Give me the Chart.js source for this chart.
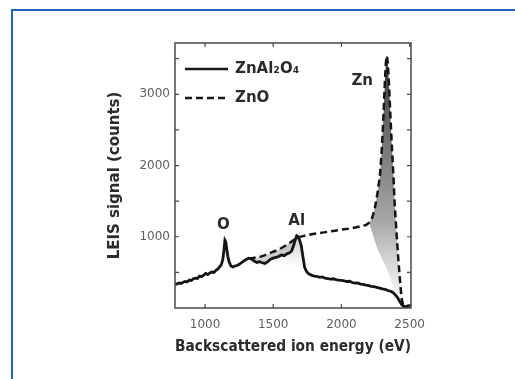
<!DOCTYPE html>
<html>
<head>
<meta charset="utf-8">
<script src="https://cdn.jsdelivr.net/npm/chart.js@4.4.0/dist/chart.umd.min.js"></script>
<style>
  html, body { margin: 0; padding: 0; background: #fff; }
  canvas { display: block; }
</style>
</head>
<body>
<canvas id="leisChart" width="515" height="379"></canvas>
<script>
// ZnAl2O4 スペクトル (実線)
const spinelEnergy = [780, 795, 810, 825, 840, 855, 870, 885, 900, 915, 930, 945, 960, 975, 990, 1005, 1020, 1035, 1050, 1065, 1080, 1095, 1108, 1120, 1130, 1138, 1146, 1152, 1160, 1168, 1178, 1190, 1205, 1220, 1240, 1260, 1280, 1300, 1320, 1340, 1360, 1380, 1400, 1420, 1440, 1460, 1480, 1500, 1520, 1540, 1560, 1580, 1600, 1620, 1635, 1650, 1662, 1672, 1682, 1692, 1705, 1718, 1730, 1745, 1760, 1780, 1800, 1820, 1840, 1860, 1880, 1900, 1920, 1940, 1960, 1980, 2000, 2020, 2040, 2060, 2080, 2100, 2120, 2140, 2160, 2180, 2200, 2220, 2240, 2260, 2280, 2300, 2320, 2340, 2360, 2380, 2395, 2410, 2425, 2440, 2455, 2470, 2490, 2510];
const spinelCounts = [330, 338, 352, 345, 362, 372, 368, 392, 385, 410, 420, 415, 448, 440, 462, 485, 470, 492, 505, 500, 530, 548, 580, 610, 680, 800, 950, 930, 820, 720, 640, 590, 575, 590, 600, 625, 655, 680, 700, 690, 660, 640, 650, 635, 625, 650, 685, 700, 712, 722, 745, 735, 760, 775, 800, 880, 960, 1015, 1000, 960, 880, 720, 570, 510, 480, 462, 448, 445, 430, 436, 418, 412, 405, 410, 398, 392, 388, 380, 372, 375, 358, 350, 352, 336, 332, 322, 315, 305, 300, 288, 280, 268, 262, 245, 235, 215, 185, 150, 100, 50, 25, 20, 25, 30, 35];

// ZnO スペクトル (破線)
const zincOxideEnergy = [1320, 1350, 1380, 1410, 1440, 1470, 1500, 1530, 1560, 1590, 1620, 1650, 1680, 1710, 1740, 1780, 1820, 1860, 1900, 1940, 1980, 2020, 2060, 2100, 2140, 2180, 2205, 2225, 2245, 2265, 2282, 2295, 2307, 2318, 2326, 2332, 2340, 2352, 2367, 2380, 2391, 2403, 2415, 2428, 2440, 2452, 2470, 2490, 2510];
const zincOxideCounts = [700, 702, 710, 722, 742, 765, 790, 812, 842, 876, 912, 955, 992, 1005, 1020, 1034, 1046, 1058, 1070, 1082, 1094, 1105, 1116, 1130, 1146, 1165, 1200, 1265, 1400, 1620, 1850, 2200, 2650, 3150, 3450, 3540, 3450, 3000, 2370, 1900, 1440, 1080, 740, 420, 150, 40, 25, 30, 35];

// 灰色の塗りの下端
const shadeEnergy = [1320, 1340, 1360, 1380, 1400, 1420, 1440, 1460, 1480, 1500, 1520, 1540, 1560, 1580, 1600, 1620, 1635, 1650, 1662, 1672, 1680, 1710, 1740, 1780, 1820, 1860, 1900, 1940, 1980, 2020, 2060, 2100, 2140, 2180, 2205, 2235, 2260, 2290, 2320, 2350, 2380, 2405, 2430, 2452, 2470, 2490, 2510];
const shadeCounts = [700, 690, 660, 640, 650, 635, 625, 650, 685, 700, 712, 722, 745, 735, 760, 775, 800, 880, 960, 1000, 992, 1005, 1020, 1034, 1046, 1058, 1070, 1082, 1094, 1105, 1116, 1130, 1146, 1165, 1185, 1000, 850, 720, 600, 470, 320, 190, 90, 40, 25, 30, 35];

// ピーク名とその位置
const peakNames = ['O', 'Al', 'Zn'];
const peakEnergy = [1135, 1672, 2152];
const peakCounts = [1160, 1220, 3180];

// 目盛 (ラベルなしの目盛も含む)
const xTickValues = [1000, 1500, 2000, 2500];
const yTickValues = [500, 1000, 1500, 2000, 2500, 3000, 3500];
const xTickLabels = [1000, 1500, 2000, 2500];
const yTickLabels = [1000, 2000, 3000];

const seriesNames = ['ZnAl\u2082O\u2084', 'ZnO'];

const toPoints = (xs, ys) => xs.map((x, i) => ({ x: x, y: ys[i] }));

const LABEL_FONT = 'bold 15px "DejaVu Sans"';
const TEXT_COLOR = '#2b2b2b';

// 縦方向のグラデーション
function verticalGradient(chart, stops) {
    const { ctx, chartArea, scales } = chart;
    if (!chartArea || !scales.y) return 'rgba(0,0,0,0)';
    const topValue = stops[0][0];
    const g = ctx.createLinearGradient(0, scales.y.getPixelForValue(topValue), 0, scales.y.getPixelForValue(0));
    stops.forEach(([v, col]) => g.addColorStop(1 - v / topValue, col));
    return g;
}

const framePlugin = {
    id: 'frame',
    beforeDraw(chart) {
        const c = chart.ctx;
        c.save();
        c.fillStyle = '#fff';
        c.fillRect(0, 0, chart.width, chart.height);
        // 青い枠
        c.strokeStyle = '#1f63b6';
        c.lineWidth = 2;
        c.beginPath();
        c.moveTo(12, chart.height);
        c.lineTo(12, 10);
        c.lineTo(chart.width, 10);
        c.stroke();
        c.restore();
    },
    afterDatasetsDraw(chart) {
        const { ctx: c, chartArea: a, scales } = chart;
        const x = scales.x, y = scales.y;
        c.save();
        // 枠と内向きの目盛
        c.strokeStyle = '#4a4a4a';
        c.lineWidth = 1.5;
        c.strokeRect(a.left, a.top, a.right - a.left, a.bottom - a.top);
        c.lineWidth = 1.2;
        c.beginPath();
        x.ticks.forEach(t => {
            const px = x.getPixelForValue(t.value);
            c.moveTo(px, a.bottom); c.lineTo(px, a.bottom - 4);
            c.moveTo(px, a.top); c.lineTo(px, a.top + 4);
        });
        y.ticks.forEach(t => {
            const py = y.getPixelForValue(t.value);
            c.moveTo(a.left, py); c.lineTo(a.left + 4, py);
            c.moveTo(a.right, py); c.lineTo(a.right - 4, py);
        });
        c.stroke();

        // 凡例
        c.strokeStyle = '#1a1a1a';
        c.lineWidth = 2.5;
        const rows = [a.top + 26, a.top + 55];
        rows.forEach((ry, i) => {
            c.setLineDash(i === 0 ? [] : [7, 4]);
            c.beginPath();
            c.moveTo(a.left + 10, ry);
            c.lineTo(a.left + 53, ry);
            c.stroke();
        });
        c.setLineDash([]);
        c.font = LABEL_FONT;
        c.fillStyle = TEXT_COLOR;
        c.textBaseline = 'middle';
        c.textAlign = 'left';
        rows.forEach((ry, i) => c.fillText(seriesNames[i], a.left + 60, ry));

        // ピーク名
        c.textAlign = 'center';
        peakNames.forEach((name, i) => {
            c.fillText(name, x.getPixelForValue(peakEnergy[i]), y.getPixelForValue(peakCounts[i]));
        });
        c.restore();
    }
};

new Chart(document.getElementById('leisChart'), {
    type: 'line',
    data: {
        datasets: [
            {
                label: seriesNames[0],
                data: toPoints(spinelEnergy, spinelCounts),
                borderColor: '#151515',
                borderWidth: 2.8,
                pointRadius: 0,
                tension: 0,
                fill: 'origin',
                backgroundColor: ctx => verticalGradient(ctx.chart, [
                    [1000, '#cfcfcf'], [800, '#e4e4e4'], [620, '#fbfbfb'], [560, 'rgba(255,255,255,0)'], [0, 'rgba(255,255,255,0)']
                ])
            },
            {
                label: seriesNames[1],
                data: toPoints(zincOxideEnergy, zincOxideCounts),
                borderColor: '#151515',
                borderWidth: 2.5,
                borderDash: [7, 4],
                pointRadius: 0,
                tension: 0,
                fill: 2,
                backgroundColor: ctx => verticalGradient(ctx.chart, [
                    [3550, '#383838'], [2200, '#7a7a7a'], [1200, '#a8a8a8'], [700, '#d2d2d2'], [250, '#f2f2f2'], [0, '#ffffff']
                ])
            },
            {
                label: 'shade',
                data: toPoints(shadeEnergy, shadeCounts),
                borderColor: 'rgba(0,0,0,0)',
                borderWidth: 0,
                pointRadius: 0,
                tension: 0,
                fill: false
            }
        ]
    },
    options: {
        responsive: false,
        devicePixelRatio: 1,
        animation: false,
        events: [],
        layout: { padding: { left: 100, right: 104, top: 43, bottom: 19 } },
        plugins: {
            legend: { display: false },
            tooltip: { enabled: false },
            filler: { drawTime: 'beforeDatasetsDraw' }
        },
        scales: {
            x: {
                type: 'linear',
                min: 780,
                max: 2510,
                afterFit: s => { s.height = 52; },
                afterBuildTicks: s => { s.ticks = xTickValues.map(v => ({ value: v })); },
                grid: { display: false, drawTicks: false },
                border: { display: false },
                ticks: {
                    autoSkip: false,
                    maxRotation: 0,
                    padding: 10,
                    color: '#5e5e5e',
                    font: { family: 'DejaVu Sans', size: 12 },
                    callback: v => xTickLabels.includes(v) ? String(v) : ''
                },
                title: {
                    display: true,
                    text: 'Backscattered ion energy (eV)',
                    color: TEXT_COLOR,
                    font: { family: 'DejaVu Sans', size: 15, weight: 'bold' },
                    padding: { top: 0, bottom: 4 }
                }
            },
            y: {
                min: 0,
                max: 3720,
                afterFit: s => { s.width = 75; },
                afterBuildTicks: s => { s.ticks = yTickValues.map(v => ({ value: v })); },
                grid: { display: false, drawTicks: false },
                border: { display: false },
                ticks: {
                    autoSkip: false,
                    padding: 5,
                    color: '#5e5e5e',
                    font: { family: 'DejaVu Sans', size: 12 },
                    callback: v => yTickLabels.includes(v) ? String(v) : ''
                },
                title: {
                    display: true,
                    text: 'LEIS signal (counts)',
                    color: TEXT_COLOR,
                    font: { family: 'DejaVu Sans', size: 15, weight: 'bold' },
                    padding: { top: 6, bottom: 0 }
                }
            }
        }
    },
    plugins: [framePlugin]
});
</script>
</body>
</html>
